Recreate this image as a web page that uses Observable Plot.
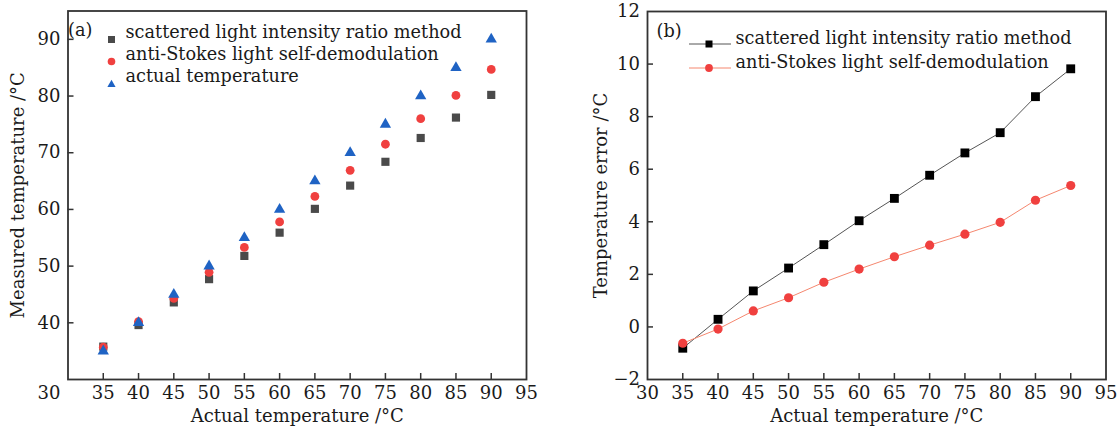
<!DOCTYPE html>
<html>
<head>
<meta charset="utf-8">
<script src="https://cdn.jsdelivr.net/npm/d3@7"></script>
<script src="https://cdn.jsdelivr.net/npm/@observablehq/plot@0.6"></script>
<style>
  html, body { margin: 0; padding: 0; background: #fff; }
  #wrap { position: relative; width: 1119px; height: 431px; display: flex; overflow: hidden;
          font-family: "DejaVu Serif", "Liberation Serif", serif; color: #1a1a1a; }
  .leg { position: absolute; font-size: 17.7px; line-height: 22px; white-space: nowrap; }
  .sw { position: absolute; }
</style>
</head>
<body>
<div id="wrap"></div>
<script>
// ---------- data ----------
const temps = [35, 40, 45, 50, 55, 60, 65, 70, 75, 80, 85, 90];
const ratioMeasured = [35.8, 39.6, 43.6, 47.7, 51.8, 55.9, 60.1, 64.2, 68.4, 72.6, 76.2, 80.2];
const antiMeasured  = [35.7, 40.2, 44.3, 48.9, 53.3, 57.8, 62.3, 66.9, 71.5, 76.0, 80.1, 84.7];
const actualTemp    = [35, 40, 45, 50, 55, 60, 65, 70, 75, 80, 85, 90];
const ratioError = [-0.81, 0.29, 1.37, 2.24, 3.13, 4.04, 4.89, 5.77, 6.62, 7.39, 8.76, 9.82];
const antiError  = [-0.62, -0.08, 0.61, 1.11, 1.70, 2.20, 2.67, 3.11, 3.53, 3.98, 4.82, 5.38];
const xTickLabels = [30, 35, 40, 45, 50, 55, 60, 65, 70, 75, 80, 85, 90, 95];
const xTickMarks = [35, 40, 45, 50, 55, 60, 65, 70, 75, 80, 85, 90];
const yTicksA = [40, 50, 60, 70, 80, 90];
const yTicksB = [-2, 0, 2, 4, 6, 8, 10, 12];
const yTickMarksB = [0, 2, 4, 6, 8, 10];
const seriesA = ["scattered light intensity ratio method", "anti-Stokes light self-demodulation", "actual temperature"];
const seriesB = ["scattered light intensity ratio method", "anti-Stokes light self-demodulation"];
const xLabel = "Actual temperature /°C";
const yLabelA = "Measured temperature /°C";
const yLabelB = "Temperature error /°C";

const rows = temps.map((t, i) => ({
  t, ratio: ratioMeasured[i], anti: antiMeasured[i], actual: actualTemp[i],
  ratioErr: ratioError[i], antiErr: antiError[i]
}));

// ---------- style ----------
const font = "'DejaVu Serif', 'Liberation Serif', serif";
const ink = "#1a1a1a";
const frameColor = "#333";
const gray = "#4a4a4a", red = "#f0403f", blue = "#1f63c4", salmon = "#f5876f";
const H = 431;
const minus = d => (d < 0 ? "\u2212" + (-d) : String(d));

function panel({width, ml, mr, mt, mb, xDomain, yDomain, yTicks, yTickMarks, yLabel, yLabelOffset, marks, shift30}) {
  const innerH = H - mt - mb, innerW = width - ml - mr;
  const xMain = shift30 ? xTickLabels.filter(d => d !== 30) : xTickLabels;
  const m = [
    Plot.frame({stroke: frameColor, strokeWidth: 1.8}),
    Plot.tickX(xTickMarks, {x: d => d, insetTop: innerH - 6, stroke: frameColor, strokeWidth: 1.5}),
    Plot.tickY(yTickMarks, {y: d => d, insetRight: innerW - 6, stroke: frameColor, strokeWidth: 1.5}),
    Plot.axisX(xMain, {tickSize: 0, tickPadding: 7, fill: ink, fontSize: 18, label: xLabel, labelAnchor: "center", labelOffset: 42, labelArrow: "none"}),
    Plot.axisY(yTicks, {tickSize: 0, tickPadding: 7.5, fill: ink, fontSize: 18, tickFormat: minus, label: yLabel, labelAnchor: "center", labelOffset: yLabelOffset, labelArrow: "none"}),
    ...marks
  ];
  if (shift30) m.push(Plot.axisX([30], {tickSize: 0, tickPadding: 7, dx: -19, fill: ink, fontSize: 18, label: null}));
  return Plot.plot({
    width, height: H,
    marginLeft: ml, marginRight: mr, marginTop: mt, marginBottom: mb,
    style: {fontFamily: font, fontSize: "18px", background: "#fff", color: ink, overflow: "visible"},
    x: {domain: xDomain},
    y: {domain: yDomain},
    marks: m
  });
}

const left = panel({
  width: 560, ml: 67.5, mr: 34, mt: 10.5, mb: 52,
  xDomain: [30, 95], yDomain: [30, 95],
  yTicks: yTicksA, yTickMarks: yTicksA, yLabel: yLabelA, yLabelOffset: 57, shift30: true,
  marks: [
    Plot.dot(rows, {x: "t", y: "ratio", symbol: "square", r: 4.6, fill: gray}),
    Plot.dot(rows, {x: "t", y: "anti", symbol: "circle", r: 4.4, fill: red}),
    Plot.dot(rows, {x: "t", y: "actual", symbol: "triangle", r: 4.2, fill: blue})
  ]
});

const right = panel({
  width: 559, ml: 87, mr: 13.5, mt: 11, mb: 52,
  xDomain: [30, 95], yDomain: [-2, 12],
  yTicks: yTicksB, yTickMarks: yTickMarksB, yLabel: yLabelB, yLabelOffset: 53.5, shift30: false,
  marks: [
    Plot.line(rows, {x: "t", y: "ratioErr", stroke: "#555", strokeWidth: 1}),
    Plot.line(rows, {x: "t", y: "antiErr", stroke: salmon, strokeWidth: 1}),
    Plot.dot(rows, {x: "t", y: "ratioErr", symbol: "square", r: 5, fill: "#000"}),
    Plot.dot(rows, {x: "t", y: "antiErr", symbol: "circle", r: 4.6, fill: red})
  ]
});

const wrap = document.getElementById("wrap");
wrap.appendChild(left);
wrap.appendChild(right);

// ---------- legends (HTML overlay) ----------
function addText(txt, x, cy) {
  const d = document.createElement("div");
  d.className = "leg";
  d.style.left = x + "px";
  d.style.top = (cy - 12) + "px";
  d.textContent = txt;
  wrap.appendChild(d);
}
function addSwatch(svgInner, x, cy, w, h) {
  const d = document.createElement("div");
  d.className = "sw";
  d.style.left = (x - w / 2) + "px";
  d.style.top = (cy - h / 2) + "px";
  d.innerHTML = `<svg width="${w}" height="${h}" viewBox="0 0 ${w} ${h}">${svgInner}</svg>`;
  wrap.appendChild(d);
}
// panel (a)
addText("(a)", 68, 31);
const legA = [
  {name: seriesA[0], cy: 33, sw: `<rect x="1" y="1" width="7" height="7" fill="${gray}"/>`},
  {name: seriesA[1], cy: 55, sw: `<circle cx="4.5" cy="4.5" r="3.8" fill="${red}"/>`},
  {name: seriesA[2], cy: 77, sw: `<path d="M4.5,0.8 L8.6,8 L0.4,8 Z" fill="${blue}"/>`}
];
legA.forEach(l => { addSwatch(l.sw, 111, l.cy, 9, 9); addText(l.name, 125.5, l.cy); });
// panel (b)
addText("(b)", 656.5, 32);
const legB = [
  {name: seriesB[0], cy: 39.3, sw: `<line x1="0" y1="5" x2="42" y2="5" stroke="#555" stroke-width="1"/><rect x="16.5" y="1.5" width="7" height="7" fill="#000"/>`},
  {name: seriesB[1], cy: 62.7, sw: `<line x1="0" y1="5" x2="42" y2="5" stroke="${salmon}" stroke-width="1"/><circle cx="20" cy="5" r="3.9" fill="${red}"/>`}
];
legB.forEach(l => { addSwatch(l.sw, 710, l.cy, 42, 10); addText(l.name, 735.5, l.cy); });
</script>
</body>
</html>
